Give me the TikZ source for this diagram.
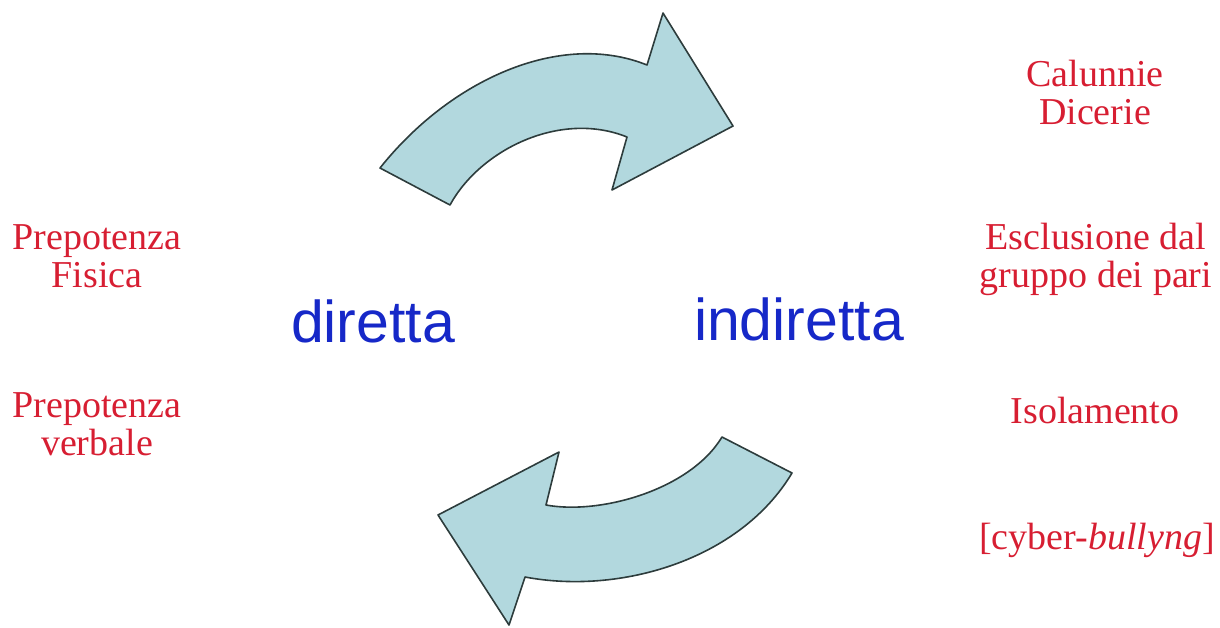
\documentclass[tikz,border=0pt]{standalone}
\usepackage{fontspec}
\setmainfont{Liberation Serif}
\newfontfamily\blufont{Liberation Sans}
\definecolor{arrfill}{RGB}{178,216,222}
\definecolor{arrline}{RGB}{45,60,60}
\definecolor{redtxt}{RGB}{215,30,50}
\definecolor{bluetxt}{RGB}{22,40,200}
\begin{document}
\begin{tikzpicture}[x=0.5pt,y=-0.5pt,
  bigarrow/.style={fill=arrfill,draw=arrline,line width=0.8pt,line join=round},
  redlbl/.style={text=redtxt,align=center,font=\fontsize{19}{19}\selectfont,inner sep=0pt},
  bluelbl/.style={text=bluetxt,font=\blufont\fontsize{29.5}{29.5}\selectfont,inner sep=0pt,anchor=base}]
\useasboundingbox (0,0) rectangle (1220,627);
% top arrow
\draw[bigarrow] (380,168) .. controls (450,80) and (560,30) .. (647,65)
  -- (663,13) -- (733,126) -- (612,190) -- (627,137)
  .. controls (560,110) and (480,150) .. (450,205) -- cycle;
% bottom arrow
\draw[bigarrow] (722,437) .. controls (690,490) and (600,515) .. (546,505)
  -- (559,452) -- (438,515) -- (509,625) -- (525,577)
  .. controls (620,595) and (740,560) .. (792,473) -- cycle;
% labels
\node[bluelbl] (dir) at (373,342) {diretta};
\node[bluelbl] (ind) at (799,340) {indiretta};
\node[redlbl] (cal) at (1095,92) {Calunnie\\Dicerie};
\node[redlbl] (esc) at (1096,259) {Esclusione dal\\gruppo dei pari};
\node[redlbl] (iso) at (1095,410) {Isolamento};
\node[redlbl] (cyb) at (1097,540) {[cyber-\textit{bullyng}]};
\node[redlbl] (pf) at (97,256) {Prepotenza\\Fisica};
\node[redlbl] (pv) at (97,424) {Prepotenza\\verbale};
\end{tikzpicture}
\end{document}
